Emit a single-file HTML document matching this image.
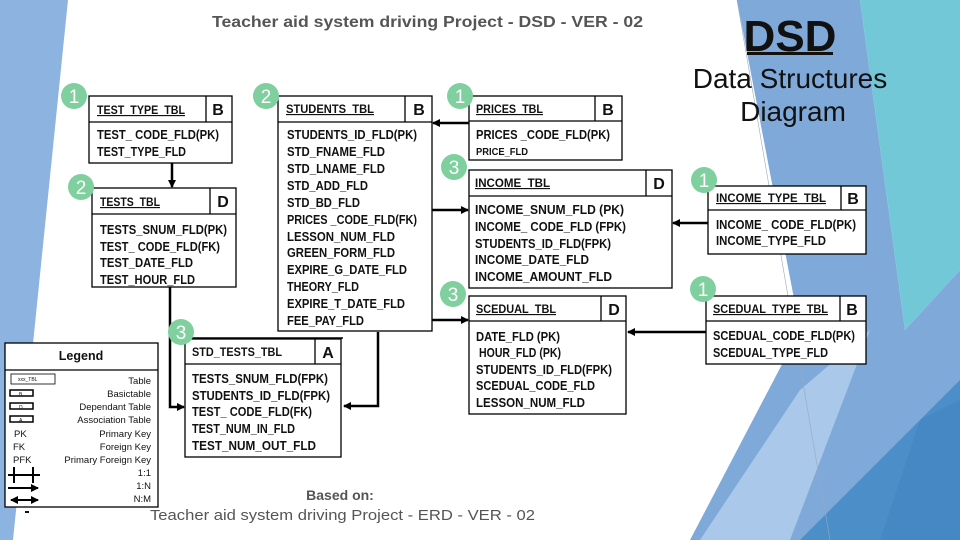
<!DOCTYPE html>
<html><head><meta charset="utf-8"><style>
html,body{margin:0;padding:0;background:#fff}
svg{display:block}
text{font-family:"Liberation Sans",sans-serif}
.r{font-size:12.5px;font-weight:bold;fill:#111}
.h{font-size:11.5px;font-weight:bold;fill:#111;text-decoration:underline}
.l{font-size:16px;font-weight:bold;fill:#111}
.n{font-size:19px;fill:#fff}
.lg{font-size:9.5px;fill:#111}
</style></head><body>
<svg width="960" height="540" viewBox="0 0 960 540" xmlns="http://www.w3.org/2000/svg">
<defs><marker id="a" markerWidth="8" markerHeight="8" refX="7" refY="4" orient="auto-start-reverse" markerUnits="userSpaceOnUse"><path d="M0,0 L8,4 L0,8 z" fill="#000"/></marker></defs>
<!-- background -->
<polygon points="0,0 68,0 13,540 0,540" fill="#8db4e0"/>
<polygon points="737,0 860,0 905,330 960,270 960,540 690,540 800,330" fill="#7fa9d9"/>
<polygon points="860,0 960,0 960,270 905,330" fill="#73c8d8"/>
<polygon points="700,540 800,390 870,330 790,540" fill="#a9c8ea"/>
<polygon points="800,540 960,380 960,540" fill="#4b8ec8"/>
<polygon points="880,540 920,420 960,400 960,540" fill="#4588c4"/>
<line x1="737" y1="0" x2="830" y2="540" stroke="#9ab" stroke-width="0.6"/>
<!-- titles -->
<text x="212" y="27" textLength="431" lengthAdjust="spacingAndGlyphs" style="font-size:16px;fill:#555;font-weight:bold">Teacher aid system driving Project - DSD - VER - 02</text>
<text x="790" y="51" text-anchor="middle" style="font-size:44px;font-weight:bold;fill:#111">DSD</text>
<rect x="747" y="52" width="86" height="3" fill="#111"/>
<text x="790" y="88" text-anchor="middle" style="font-size:28px;fill:#111">Data Structures</text>
<text x="793" y="121" text-anchor="middle" style="font-size:28px;fill:#111">Diagram</text>
<!-- connectors -->
<g stroke="#000" stroke-width="2.5" fill="none">
<line x1="172" y1="163" x2="172" y2="187" marker-end="url(#a)"/>
<polyline points="170,287 170,407 184,407" marker-end="url(#a)"/>
<line x1="170" y1="338" x2="343" y2="338" stroke-width="1.5"/>
<polyline points="378,332 378,406 344,406" marker-end="url(#a)"/>
<line x1="469" y1="123" x2="433" y2="123" marker-end="url(#a)"/>
<line x1="432" y1="210" x2="468" y2="210" marker-end="url(#a)"/>
<line x1="432" y1="320" x2="468" y2="320" marker-end="url(#a)"/>
<line x1="708" y1="223" x2="673" y2="223" marker-end="url(#a)"/>
<line x1="706" y1="332" x2="628" y2="332" marker-end="url(#a)"/>
</g>
<!-- boxes -->
<g stroke="#000" stroke-width="1.3" fill="#fff">
<rect x="89" y="96" width="143" height="67"/><line x1="89" y1="122" x2="232" y2="122"/><line x1="206" y1="96" x2="206" y2="122"/>
<rect x="92" y="188" width="144" height="99"/><line x1="92" y1="214" x2="236" y2="214"/><line x1="210" y1="188" x2="210" y2="214"/>
<rect x="278" y="96" width="154" height="235"/><line x1="278" y1="122" x2="432" y2="122"/><line x1="405" y1="96" x2="405" y2="122"/>
<rect x="185" y="339" width="156" height="118"/><line x1="185" y1="364" x2="341" y2="364"/><line x1="315" y1="339" x2="315" y2="364"/>
<rect x="469" y="96" width="153" height="64"/><line x1="469" y1="121" x2="622" y2="121"/><line x1="595" y1="96" x2="595" y2="121"/>
<rect x="469" y="170" width="203" height="118"/><line x1="469" y1="196" x2="672" y2="196"/><line x1="646" y1="170" x2="646" y2="196"/>
<rect x="469" y="296" width="157" height="118"/><line x1="469" y1="321" x2="626" y2="321"/><line x1="601" y1="296" x2="601" y2="321"/>
<rect x="708" y="186" width="158" height="68"/><line x1="708" y1="210" x2="866" y2="210"/><line x1="841" y1="186" x2="841" y2="210"/>
<rect x="706" y="296" width="160" height="68"/><line x1="706" y1="321" x2="866" y2="321"/><line x1="840" y1="296" x2="840" y2="321"/>
<rect x="5" y="343" width="153" height="164"/><line x1="5" y1="370" x2="158" y2="370"/>
</g>
<!-- circles -->
<g fill="#7fcf9f">
<circle cx="74" cy="96" r="13"/><circle cx="266" cy="96" r="13"/><circle cx="460" cy="96" r="13"/>
<circle cx="81" cy="187" r="13"/><circle cx="454" cy="167" r="13"/><circle cx="453" cy="294" r="13"/>
<circle cx="181" cy="332" r="13"/><circle cx="704" cy="180" r="13"/><circle cx="703" cy="289" r="13"/>
</g>
<g class="n" text-anchor="middle">
<text x="74" y="103" class="n">1</text><text x="266" y="103" class="n">2</text><text x="460" y="103" class="n">1</text>
<text x="81" y="194" class="n">2</text><text x="454" y="174" class="n">3</text><text x="453" y="301" class="n">3</text>
<text x="181" y="339" class="n">3</text><text x="704" y="187" class="n">1</text><text x="703" y="296" class="n">1</text>
</g>
<!-- headers -->
<text class="h" x="97" y="114" textLength="88" lengthAdjust="spacingAndGlyphs">TEST_TYPE_TBL</text><text class="l" x="218" y="115" text-anchor="middle">B</text>
<text class="h" x="100" y="206" textLength="60" lengthAdjust="spacingAndGlyphs">TESTS_TBL</text><text class="l" x="223" y="207" text-anchor="middle">D</text>
<text class="h" x="286" y="113" textLength="88" lengthAdjust="spacingAndGlyphs">STUDENTS_TBL</text><text class="l" x="419" y="115" text-anchor="middle">B</text>
<text class="h" x="192" y="356" textLength="90" lengthAdjust="spacingAndGlyphs" style="text-decoration:none">STD_TESTS_TBL</text><text class="l" x="328" y="358" text-anchor="middle">A</text>
<text class="h" x="476" y="113" textLength="67" lengthAdjust="spacingAndGlyphs">PRICES_TBL</text><text class="l" x="608" y="115" text-anchor="middle">B</text>
<text class="h" x="475" y="187" textLength="75" lengthAdjust="spacingAndGlyphs">INCOME_TBL</text><text class="l" x="659" y="189" text-anchor="middle">D</text>
<text class="h" x="476" y="313" textLength="80" lengthAdjust="spacingAndGlyphs">SCEDUAL_TBL</text><text class="l" x="614" y="315" text-anchor="middle">D</text>
<text class="h" x="716" y="202" textLength="110" lengthAdjust="spacingAndGlyphs">INCOME_TYPE_TBL</text><text class="l" x="853" y="204" text-anchor="middle">B</text>
<text class="h" x="713" y="313" textLength="115" lengthAdjust="spacingAndGlyphs">SCEDUAL_TYPE_TBL</text><text class="l" x="852" y="315" text-anchor="middle">B</text>
<!-- rows -->
<g class="r">
<text class="r" x="97" y="139" textLength="122" lengthAdjust="spacingAndGlyphs">TEST_ CODE_FLD(PK)</text>
<text class="r" x="97" y="156" textLength="89" lengthAdjust="spacingAndGlyphs">TEST_TYPE_FLD</text>
<text class="r" x="100" y="234" textLength="127" lengthAdjust="spacingAndGlyphs">TESTS_SNUM_FLD(PK)</text>
<text class="r" x="100" y="251" textLength="120" lengthAdjust="spacingAndGlyphs">TEST_ CODE_FLD(FK)</text>
<text class="r" x="100" y="267" textLength="93" lengthAdjust="spacingAndGlyphs">TEST_DATE_FLD</text>
<text class="r" x="100" y="284" textLength="95" lengthAdjust="spacingAndGlyphs">TEST_HOUR_FLD</text>
<text class="r" x="287" y="139" textLength="130" lengthAdjust="spacingAndGlyphs">STUDENTS_ID_FLD(PK)</text>
<text class="r" x="287" y="156" textLength="98" lengthAdjust="spacingAndGlyphs">STD_FNAME_FLD</text>
<text class="r" x="287" y="173" textLength="98" lengthAdjust="spacingAndGlyphs">STD_LNAME_FLD</text>
<text class="r" x="287" y="190" textLength="81" lengthAdjust="spacingAndGlyphs">STD_ADD_FLD</text>
<text class="r" x="287" y="207" textLength="73" lengthAdjust="spacingAndGlyphs">STD_BD_FLD</text>
<text class="r" x="287" y="224" textLength="130" lengthAdjust="spacingAndGlyphs">PRICES _CODE_FLD(FK)</text>
<text class="r" x="287" y="241" textLength="108" lengthAdjust="spacingAndGlyphs">LESSON_NUM_FLD</text>
<text class="r" x="287" y="257" textLength="108" lengthAdjust="spacingAndGlyphs">GREEN_FORM_FLD</text>
<text class="r" x="287" y="274" textLength="120" lengthAdjust="spacingAndGlyphs">EXPIRE_G_DATE_FLD</text>
<text class="r" x="287" y="291" textLength="72" lengthAdjust="spacingAndGlyphs">THEORY_FLD</text>
<text class="r" x="287" y="308" textLength="118" lengthAdjust="spacingAndGlyphs">EXPIRE_T_DATE_FLD</text>
<text class="r" x="287" y="325" textLength="77" lengthAdjust="spacingAndGlyphs">FEE_PAY_FLD</text>
<text class="r" x="192" y="383" textLength="136" lengthAdjust="spacingAndGlyphs">TESTS_SNUM_FLD(FPK)</text>
<text class="r" x="192" y="400" textLength="138" lengthAdjust="spacingAndGlyphs">STUDENTS_ID_FLD(FPK)</text>
<text class="r" x="192" y="416" textLength="120" lengthAdjust="spacingAndGlyphs">TEST_ CODE_FLD(FK)</text>
<text class="r" x="192" y="433" textLength="103" lengthAdjust="spacingAndGlyphs">TEST_NUM_IN_FLD</text>
<text class="r" x="192" y="450" textLength="124" lengthAdjust="spacingAndGlyphs">TEST_NUM_OUT_FLD</text>
<text class="r" x="476" y="139" textLength="134" lengthAdjust="spacingAndGlyphs">PRICES _CODE_FLD(PK)</text>
<text x="476" y="155" textLength="52" lengthAdjust="spacingAndGlyphs" style="font-size:10px;fill:#111">PRICE_FLD</text>
<text class="r" x="475" y="214" textLength="149" lengthAdjust="spacingAndGlyphs">INCOME_SNUM_FLD (PK)</text>
<text class="r" x="475" y="231" textLength="151" lengthAdjust="spacingAndGlyphs">INCOME_ CODE_FLD (FPK)</text>
<text class="r" x="475" y="248" textLength="136" lengthAdjust="spacingAndGlyphs">STUDENTS_ID_FLD(FPK)</text>
<text class="r" x="475" y="264" textLength="114" lengthAdjust="spacingAndGlyphs">INCOME_DATE_FLD</text>
<text class="r" x="475" y="281" textLength="137" lengthAdjust="spacingAndGlyphs">INCOME_AMOUNT_FLD</text>
<text class="r" x="476" y="341" textLength="84" lengthAdjust="spacingAndGlyphs">DATE_FLD (PK)</text>
<text class="r" x="479" y="357" textLength="82" lengthAdjust="spacingAndGlyphs">HOUR_FLD (PK)</text>
<text class="r" x="476" y="374" textLength="136" lengthAdjust="spacingAndGlyphs">STUDENTS_ID_FLD(FPK)</text>
<text class="r" x="476" y="390" textLength="119" lengthAdjust="spacingAndGlyphs">SCEDUAL_CODE_FLD</text>
<text class="r" x="476" y="407" textLength="109" lengthAdjust="spacingAndGlyphs">LESSON_NUM_FLD</text>
<text class="r" x="716" y="229" textLength="140" lengthAdjust="spacingAndGlyphs">INCOME_ CODE_FLD(PK)</text>
<text class="r" x="716" y="245" textLength="110" lengthAdjust="spacingAndGlyphs">INCOME_TYPE_FLD</text>
<text class="r" x="713" y="340" textLength="142" lengthAdjust="spacingAndGlyphs">SCEDUAL_CODE_FLD(PK)</text>
<text class="r" x="713" y="357" textLength="115" lengthAdjust="spacingAndGlyphs">SCEDUAL_TYPE_FLD</text>
</g>
<!-- legend -->
<text x="81" y="360" text-anchor="middle" style="font-size:12.5px;font-weight:bold;fill:#111">Legend</text>
<g class="lg" text-anchor="end">
<text class="lg" x="151" y="384">Table</text><text class="lg" x="151" y="397">Basictable</text>
<text class="lg" x="151" y="410">Dependant Table</text><text class="lg" x="151" y="423">Association Table</text>
<text class="lg" x="151" y="437">Primary Key</text><text class="lg" x="151" y="450">Foreign Key</text>
<text class="lg" x="151" y="463">Primary Foreign Key</text><text class="lg" x="151" y="476">1:1</text>
<text class="lg" x="151" y="489">1:N</text><text class="lg" x="151" y="502">N:M</text>
</g>
<g stroke="#000" fill="none">
<rect x="11" y="374" width="44" height="10" stroke-width="0.8"/>
<rect x="10" y="390" width="23" height="6" stroke-width="1.5"/>
<rect x="10" y="403" width="23" height="6" stroke-width="1.5"/>
<rect x="10" y="416" width="23" height="6" stroke-width="1.5"/>
<g stroke-width="2"><line x1="8" y1="475" x2="40" y2="475"/><line x1="14" y1="467" x2="14" y2="483"/><line x1="33" y1="467" x2="33" y2="483"/>
<line x1="8" y1="488" x2="38" y2="488" marker-end="url(#a)"/>
<line x1="11" y1="500" x2="38" y2="500" marker-end="url(#a)" marker-start="url(#a)"/></g>
</g>
<text x="18" y="381" style="font-size:5px;fill:#111">xxx_TBL</text>
<text x="19" y="396" style="font-size:5px;fill:#111">B</text><text x="19" y="409" style="font-size:5px;fill:#111">D</text><text x="19" y="422" style="font-size:5px;fill:#111">A</text>
<text x="14" y="437" class="lg">PK</text><text x="13" y="450" class="lg">FK</text><text x="13" y="463" class="lg">PFK</text>
<rect x="25" y="511" width="4" height="2" fill="#111"/>
<!-- footer -->
<text x="340" y="500" text-anchor="middle" style="font-size:14px;font-weight:bold;fill:#555">Based on:</text>
<text x="150" y="520" textLength="385" lengthAdjust="spacingAndGlyphs" style="font-size:15px;fill:#555">Teacher aid system driving Project - ERD - VER - 02</text>
</svg>
</body></html>
